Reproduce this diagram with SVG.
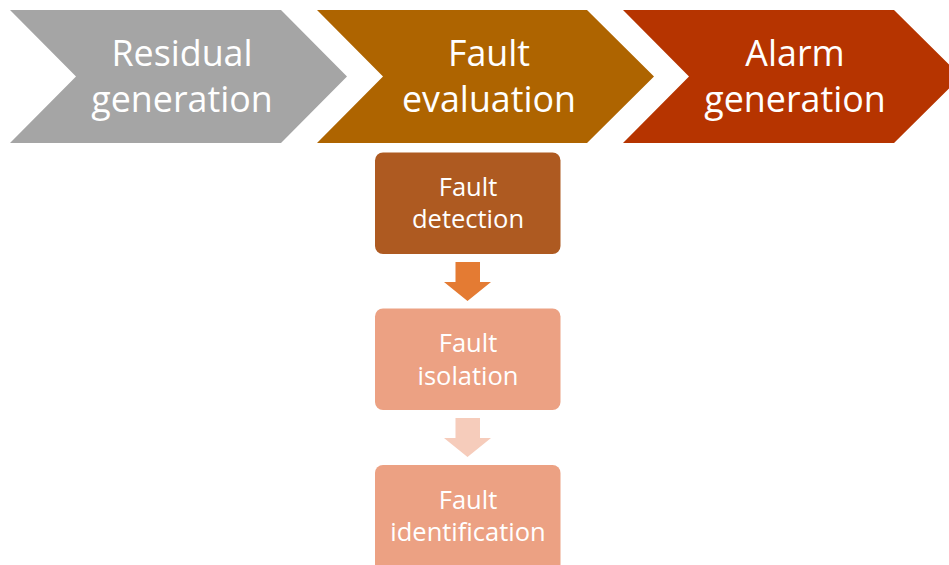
<svg xmlns="http://www.w3.org/2000/svg" width="949" height="565" viewBox="0 0 949 565">
<style>
.t{font-family:"Open Sans","Liberation Sans",sans-serif;fill:#fff;text-anchor:middle}
.big{font-size:35.8px}
.sm{font-size:25.5px}
</style>
<rect width="949" height="565" fill="#fff"/>
<g id="residual-generation">
<polygon points="10,10 281,10 347,76.5 281,143 10,143 76,76.5" fill="#A5A5A5"/>
<text class="t big" x="182" y="66">Residual</text>
<text class="t big" x="182" y="112">generation</text>
</g>
<g id="fault-evaluation">
<polygon points="317,10 587,10 654,76.5 587,143 317,143 383,76.5" fill="#AE6400"/>
<text class="t big" x="489" y="66">Fault</text>
<text class="t big" x="489" y="112">evaluation</text>
</g>
<g id="alarm-generation">
<polygon points="623,10 894,10 961,76.5 894,143 623,143 689,76.5" fill="#B63400"/>
<text class="t big" x="795" y="66">Alarm</text>
<text class="t big" x="795" y="112">generation</text>
</g>
<g id="fault-detection">
<rect x="375" y="152.5" width="185.5" height="101.5" rx="8" fill="#AE5A21"/>
<text class="t sm" x="468" y="196">Fault</text>
<text class="t sm" x="468" y="228">detection</text>
</g>
<g id="fault-isolation">
<rect x="375" y="308.5" width="185.5" height="101.5" rx="8" fill="#ECA183"/>
<text class="t sm" x="468" y="352">Fault</text>
<text class="t sm" x="468" y="384.5">isolation</text>
</g>
<g id="fault-identification">
<rect x="375" y="465" width="185.5" height="110" rx="8" fill="#ECA183"/>
<text class="t sm" x="468" y="508.5">Fault</text>
<text class="t sm" x="468" y="541">identification</text>
</g>
<g id="connectors">
<polygon points="455.5,262 480,262 480,282 491,282 467.5,301 444,282 455.5,282" fill="#E47B33"/>
<polygon points="455.5,418 480,418 480,438 491,438 467.5,457 444,438 455.5,438" fill="#F6CCBB"/>
</g>
</svg>
